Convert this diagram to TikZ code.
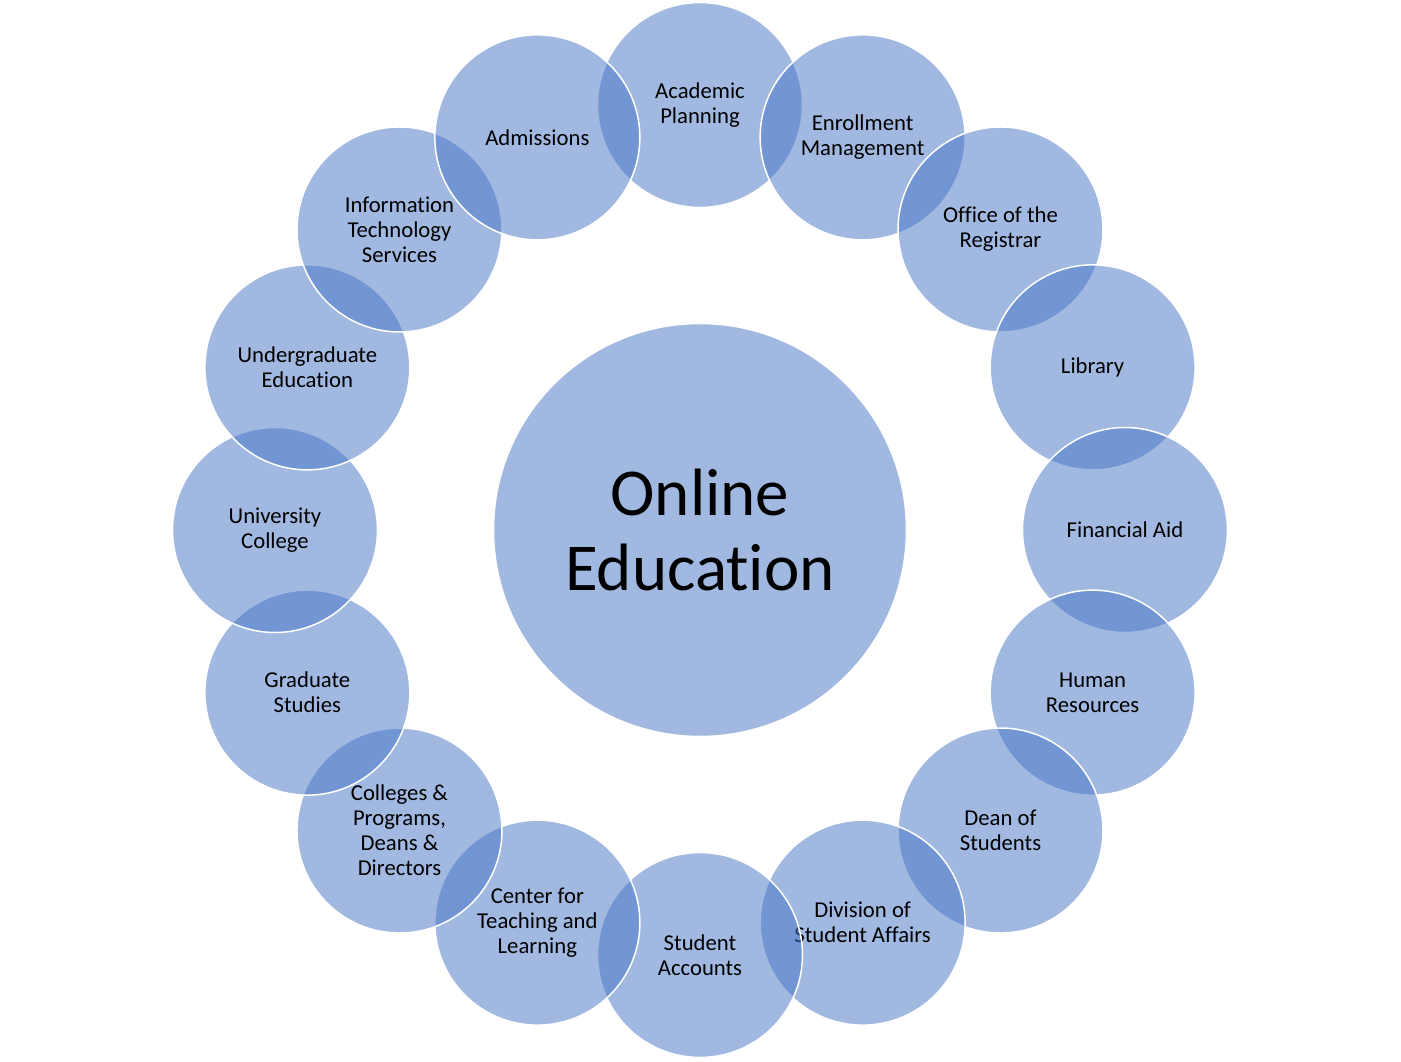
\documentclass[tikz,border=0pt]{standalone}
\usepackage{fontspec}
\setmainfont[Ligatures={NoCommon,NoRequired,NoContextual}, Contextuals=NoAlternate, RawFeature=-ccmp]{Carlito}
\usepackage{tikz}
\usetikzlibrary{positioning}
\definecolor{accent}{HTML}{4472C4}

\begin{document}
\begin{tikzpicture}[
    unit/.style={circle, draw=white, line width=1.5pt, fill=accent, fill opacity=0.5, text opacity=1, minimum size=205pt, inner sep=0pt, align=center, font=\fontsize{22.7}{25}\selectfont},
    hub/.style={unit, minimum size=413pt, font=\fontsize{67}{75}\selectfont}
]
\useasboundingbox (-700pt,-531pt) rectangle (701pt,530pt);

% Centre
\node[hub] (online) at (0,0) {Online\\Education};

% Ring, drawn clockwise from the top
\node[unit] (planning) at (90:425pt) {Academic\\Planning};
\node[unit] (enrollment) at (67.5:425pt) {Enrollment\\Management};
\node[unit] (registrar) at (45:425pt) {Office of the\\Registrar};
\node[unit] (library) at (22.5:425pt) {Library};
\node[unit] (finaid) at (0:425pt) {Financial Aid};
\node[unit] (hr) at (-22.5:425pt) {Human\\Resources};
\node[unit] (dean) at (-45:425pt) {Dean of\\Students};
\node[unit] (affairs) at (-67.5:425pt) {Division of\\Student Affairs};
\node[unit] (accounts) at (-90:425pt) {Student\\Accounts};
\node[unit] (teaching) at (-112.5:425pt) {Center for\\Teaching and\\Learning};
\node[unit] (colleges) at (-135:425pt) {Colleges \&\\Programs,\\Deans \&\\Directors};
\node[unit] (grad) at (-157.5:425pt) {Graduate\\Studies};
\node[unit] (univ) at (180:425pt) {University\\College};
\node[unit] (undergrad) at (157.5:425pt) {Undergraduate\\Education};
\node[unit] (its) at (135:425pt) {Information\\Technology\\Services};
\node[unit] (admissions) at (112.5:425pt) {Admissions};

\end{tikzpicture}
\end{document}
